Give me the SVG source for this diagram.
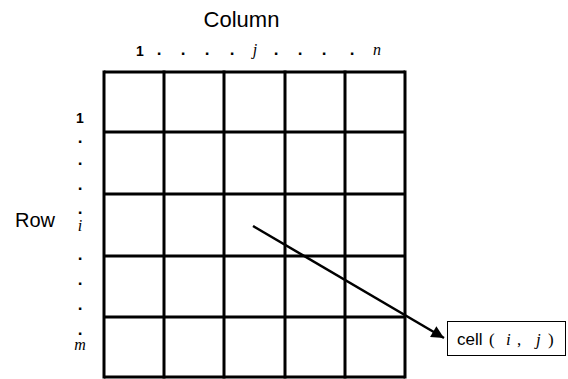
<svg xmlns="http://www.w3.org/2000/svg" width="568" height="379" viewBox="0 0 568 379">
<style>
.lbl{font-family:"Liberation Sans",Arial,sans-serif;fill:#000}
.it{font-family:"Liberation Serif","Times New Roman",serif;font-style:italic;fill:#000}
.rm{font-family:"Liberation Serif","Times New Roman",serif;fill:#000}
.dot{font-family:"Liberation Sans",Arial,sans-serif;font-weight:bold;font-size:17px;fill:#000;text-anchor:middle}
.grid line{stroke:#000;stroke-width:3}
</style>
<defs>
<marker id="ah" viewBox="0 0 10 10" refX="10" refY="5" markerWidth="5.5" markerHeight="5" orient="auto" markerUnits="strokeWidth">
<path d="M0,0 L10,5 L0,10 z" fill="#000"/>
</marker>
</defs>
<rect width="568" height="379" fill="#fff"/>
<g id="grid" class="grid">
<line x1="104" y1="72" x2="405" y2="72"/>
<line x1="104" y1="132" x2="405" y2="132"/>
<line x1="104" y1="194" x2="405" y2="194"/>
<line x1="104" y1="256" x2="405" y2="256"/>
<line x1="104" y1="317" x2="405" y2="317"/>
<line x1="104" y1="377" x2="405" y2="377"/>
<line x1="104" y1="70.5" x2="104" y2="378.5"/>
<line x1="164" y1="70.5" x2="164" y2="378.5"/>
<line x1="224" y1="70.5" x2="224" y2="378.5"/>
<line x1="285" y1="70.5" x2="285" y2="378.5"/>
<line x1="345" y1="70.5" x2="345" y2="378.5"/>
<line x1="405" y1="70.5" x2="405" y2="378.5"/>
</g>
<g id="column-labels">
<text class="lbl" x="241.5" y="27" font-size="22" text-anchor="middle">Column</text>
<text class="lbl" x="140" y="56" font-size="14" font-weight="bold" text-anchor="middle">1</text>
<text class="dot" x="159" y="55">.</text>
<text class="dot" x="183" y="55">.</text>
<text class="dot" x="207" y="55">.</text>
<text class="dot" x="232" y="55">.</text>
<text class="it" x="255" y="55" font-size="16" text-anchor="middle">j</text>
<text class="dot" x="276" y="55">.</text>
<text class="dot" x="300" y="55">.</text>
<text class="dot" x="324" y="55">.</text>
<text class="dot" x="352" y="55">.</text>
<text class="it" x="377" y="55" font-size="16" text-anchor="middle">n</text>
</g>
<g id="row-labels">
<text class="lbl" x="35" y="227" font-size="20" text-anchor="middle">Row</text>
<text class="lbl" x="80" y="123" font-size="14" font-weight="bold" text-anchor="middle">1</text>
<text class="dot" x="80" y="143">.</text>
<text class="dot" x="80" y="165">.</text>
<text class="dot" x="80" y="190">.</text>
<text class="dot" x="80" y="214">.</text>
<text class="it" x="80" y="231" font-size="16" text-anchor="middle">i</text>
<text class="dot" x="80" y="260">.</text>
<text class="dot" x="80" y="285">.</text>
<text class="dot" x="80" y="310">.</text>
<text class="dot" x="80" y="335">.</text>
<text class="it" x="80" y="350" font-size="16" text-anchor="middle">m</text>
</g>
<g id="connectors">
<line x1="253" y1="226" x2="444" y2="338" stroke="#000" stroke-width="2.5" marker-end="url(#ah)"/>
</g>
<g id="cell-label">
<rect x="447.5" y="321.5" width="118" height="34" fill="#fff" stroke="#000" stroke-width="1"/>
<text class="lbl" x="457" y="345" font-size="17">cell</text>
<text class="rm" x="489" y="345" font-size="17">(</text>
<text class="it" x="506" y="345" font-size="17">i</text>
<text class="rm" x="517" y="345" font-size="17">,</text>
<text class="it" x="536" y="345" font-size="17">j</text>
<text class="rm" x="548" y="345" font-size="17">)</text>
</g>
</svg>
